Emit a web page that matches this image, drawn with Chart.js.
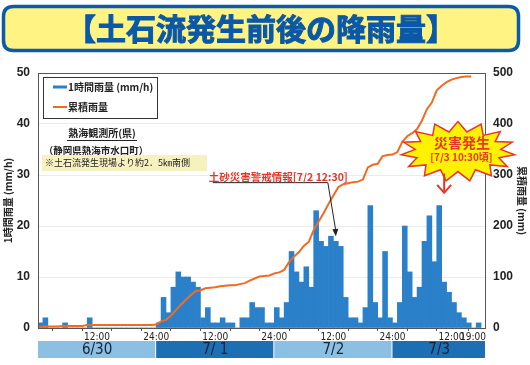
<!DOCTYPE html>
<html><head><meta charset="utf-8">
<script src="https://cdn.jsdelivr.net/npm/chart.js@4/dist/chart.umd.min.js"></script>
<style>html,body{margin:0;padding:0;background:#fff}</style>
</head><body>
<canvas id="c" width="530" height="365"></canvas>
<script>
// 1時間雨量 (mm/h): hourly bars from 6/30 0:00, one per hour (h0..h89)
const hourlyRain = [
  1,2,0,0,0,1,0,0,0,0,2,0,
  0,0,0,0,0,0,0,0,0,0,0,0,
  1,6,3,8,11,10,10,9,8,2,4,1,
  1,2,1,1,0,2,2,5,4,4,1,1,
  4,2,5,15,11,9,12,8,23,17,16,18,
  17,16,6,2,2,1,4,24,5,2,15,2,
  1,5,20,11,6,8,17,22,13,24,9,7,
  5,3,2,1,0,1
];
// 累積雨量 (mm), read per hour (h0..h88)
const cumulativeRain = [
  1,3,3,3,3,4,4,4,4,4,6,6,
  6,6,6,6,6,6,6,6,6,6,6,6,
  7,13,16,24,35,45,55,64,72,74,78,79,
  80,82,83,84,84,86,88,93,97,101,102,103,
  107,109,114,129,140,149,161,169,192,209,225,243,
  260,276,282,284,286,287,291,315,320,322,337,339,
  340,345,365,376,382,390,407,429,442,466,475,482,
  487,490,492,493,493
];
const tickHours  = [0,6,12,18,24,30,36,42,48,54,60,66,72,78,84,91];
const tickLabels = ['','','12:00','','24:00','','12:00','','24:00','','12:00','','24:00','','12:00','19:00'];
const dayLabels = ['6/30','7/ 1','7/2','7/3'];
const dayBounds = [0,24,48,72,91];
const warningHour = 60.5;   // 7/2 12:30
const disasterHour = 82.5;  // 7/3 10:30

const BAR = '#2a80c9', LINE = '#f26a21', RED = '#e8352a';
const JP = '"Noto Sans CJK JP", sans-serif';

function rr(ctx,x,y,w,h,r){ctx.beginPath();ctx.moveTo(x+r,y);ctx.lineTo(x+w-r,y);ctx.quadraticCurveTo(x+w,y,x+w,y+r);ctx.lineTo(x+w,y+h-r);ctx.quadraticCurveTo(x+w,y+h,x+w-r,y+h);ctx.lineTo(x+r,y+h);ctx.quadraticCurveTo(x,y+h,x,y+h-r);ctx.lineTo(x,y+r);ctx.quadraticCurveTo(x,y,x+r,y);ctx.closePath();}

const deco = {
  id:'deco',
  beforeDraw(chart){
    const ctx = chart.ctx; ctx.save();
    ctx.fillStyle='#fff'; ctx.fillRect(0,0,chart.width,chart.height);
    rr(ctx,3.5,6.5,515,44,10);
    ctx.fillStyle='#fff384'; ctx.fill();
    ctx.lineWidth=3.5; ctx.strokeStyle='#0b5bab'; ctx.stroke();
    ctx.fillStyle='#0a58a8'; ctx.strokeStyle='#0a58a8'; ctx.lineWidth=1;
    ctx.font='bold 30px '+JP;
    ctx.textAlign='center'; ctx.textBaseline='middle';
    ctx.fillText('【土石流発生前後の降雨量】', 261, 29);
    ctx.strokeText('【土石流発生前後の降雨量】', 261, 29);
    ctx.restore();
  },
  afterDatasetsDraw(chart){
    const ctx = chart.ctx, ca = chart.chartArea, xs = chart.scales.x, ys = chart.scales.y;
    ctx.save();
    // plot border
    ctx.strokeStyle='#555'; ctx.lineWidth=1;
    ctx.strokeRect(Math.round(ca.left)+0.5, Math.round(ca.top)+0.5, Math.round(ca.right-ca.left)-1, Math.round(ca.bottom-ca.top));
    // legend
    const L = ca.left+5, T = ca.top+4;
    ctx.fillStyle='#fff'; ctx.fillRect(L,T,114,41);
    ctx.strokeStyle='#333'; ctx.strokeRect(L+0.5,T+0.5,114,41);
    ctx.fillStyle=BAR; ctx.fillRect(L+10,T+8.5,14,3);
    ctx.strokeStyle=LINE; ctx.lineWidth=2; ctx.beginPath(); ctx.moveTo(L+10,T+30); ctx.lineTo(L+24,T+30); ctx.stroke();
    ctx.fillStyle='#222'; ctx.font='bold 10px '+JP; ctx.textBaseline='middle'; ctx.textAlign='left';
    ctx.fillText('1時間雨量 (mm/h)', L+25, T+10);
    ctx.fillText('累積雨量', L+25, T+30);
    // station info
    ctx.textAlign='center';
    ctx.font='bold 10px '+JP;
    ctx.fillText('熱海観測所(県)', ca.left+64, ca.top+60);
    ctx.strokeStyle='#222'; ctx.lineWidth=1;
    ctx.beginPath(); ctx.moveTo(ca.left+29, ca.top+67.5); ctx.lineTo(ca.left+99, ca.top+67.5); ctx.stroke();
    ctx.font='bold 9.5px '+JP;
    ctx.fillText('（静岡県熱海市水口町）', ca.left+58, ca.top+77);
    ctx.fillStyle='#f6f2c0'; ctx.fillRect(ca.left+4, ca.top+82, 165, 16);
    ctx.fillStyle='#222'; ctx.font='9px '+JP; ctx.textAlign='left';
    ctx.fillText('※土石流発生現場より約2．5㎞南側', ca.left+7, ca.top+90);
    // warning annotation
    const tipX = xs.getPixelForValue(warningHour), tipY = ys.getPixelForValue(18);
    const elbY = ys.getPixelForValue(28.5), elbX = tipX-8;
    ctx.strokeStyle='#222'; ctx.lineWidth=1;
    ctx.beginPath(); ctx.moveTo(elbX-115, elbY); ctx.lineTo(elbX, elbY); ctx.lineTo(tipX, tipY-5); ctx.stroke();
    ctx.fillStyle='#222'; ctx.beginPath(); ctx.moveTo(tipX,tipY); ctx.lineTo(tipX-3.5,tipY-7); ctx.lineTo(tipX+2.5,tipY-7.5); ctx.closePath(); ctx.fill();
    ctx.fillStyle=RED; ctx.font='bold 10.5px '+JP; ctx.textBaseline='alphabetic';
    ctx.fillText('土砂災害警戒情報[7/2 12:30]', elbX-119, elbY-2);
    // starburst
    const cx = xs.getPixelForValue(85.3), cy = ys.getPixelForValue(34.6);
    const N = 15;
    ctx.beginPath();
    for (let i=0;i<N*2;i++){
      const a = -Math.PI/2 + i*Math.PI/N;
      const out = i%2===0;
      const rx = out ? 57 : 43, ry = out ? 30 : 20;
      const px = cx + rx*Math.cos(a), py = cy + ry*Math.sin(a);
      if(i===0) ctx.moveTo(px,py); else ctx.lineTo(px,py);
    }
    ctx.closePath();
    ctx.fillStyle='#fff200'; ctx.fill();
    ctx.strokeStyle=RED; ctx.lineWidth=1.5; ctx.stroke();
    ctx.fillStyle=RED; ctx.textAlign='center'; ctx.textBaseline='middle';
    ctx.font='bold 14px '+JP; ctx.fillText('災害発生', cx+4, cy-8.5);
    ctx.font='bold 10px '+JP; ctx.fillText('[7/3 10:30頃]', cx+3.5, cy+5.5);
    // red arrow
    const ax = xs.getPixelForValue(disasterHour), ay1 = cy+22, ay2 = ys.getPixelForValue(26.5);
    ctx.strokeStyle=RED; ctx.lineWidth=2;
    ctx.beginPath(); ctx.moveTo(ax,ay1); ctx.lineTo(ax,ay2); ctx.stroke();
    ctx.beginPath(); ctx.moveTo(ax-7,ay2-8); ctx.lineTo(ax,ay2); ctx.lineTo(ax+7,ay2-8); ctx.stroke();
    ctx.restore();
  },
  afterDraw(chart){
    const ctx = chart.ctx, ca = chart.chartArea, xs = chart.scales.x;
    ctx.save();
    const top = ca.bottom+13, h = 17;
    for (let i=0;i<dayLabels.length;i++){
      const x0 = xs.getPixelForValue(dayBounds[i]), x1 = xs.getPixelForValue(dayBounds[i+1]);
      ctx.fillStyle = i%2===0 ? '#8cc0e3' : '#1c6fb3';
      ctx.fillRect(x0, top, x1-x0-1, h);
      ctx.fillStyle='#14233a'; ctx.font='15px "Liberation Sans Narrow", "DejaVu Sans Condensed", sans-serif';
      ctx.textAlign='center'; ctx.textBaseline='middle';
      ctx.fillText(dayLabels[i], (x0+x1)/2, top+h/2+1);
    }
    ctx.restore();
  }
};

new Chart(document.getElementById('c'), {
  data: {
    datasets: [
      { type:'line', label:'累積雨量', yAxisID:'y1', order:0,
        data: cumulativeRain.map((v,i)=>({x:i, y:v})),
        borderColor: LINE, borderWidth: 2, pointRadius: 0, tension: 0, fill:false },
      { type:'bar', label:'1時間雨量 (mm/h)', yAxisID:'y', order:1,
        data: hourlyRain.map((v,i)=>({x:i+0.5, y:v})),
        backgroundColor: BAR, borderWidth: 0, barPercentage: 1, categoryPercentage: 1 }
    ]
  },
  options: {
    responsive:false, animation:false, devicePixelRatio:1,
    layout:{ padding:{ top:73, left:0, right:0, bottom:0 } },
    plugins:{ legend:{display:false}, tooltip:{enabled:false} },
    scales:{
      x:{ type:'linear', min:0, max:91, offset:false,
        afterBuildTicks(s){ s.ticks = tickHours.map(v=>({value:v})); },
        afterFit(s){ s.height = 37; },
        grid:{ drawOnChartArea:false, tickLength:3, color:'#555' },
        border:{ display:false },
        ticks:{ autoSkip:false, maxRotation:0, minRotation:0, padding:0, align:'inner',
          color:'#222', font:{ size:10, family:'"Liberation Sans Narrow", "DejaVu Sans Condensed", sans-serif' },
          callback:(v,i)=>tickLabels[i] }
      },
      y:{ position:'left', min:0, max:50,
        afterFit(s){ s.width = 38; },
        grid:{ color:'rgba(0,0,0,0.08)', drawTicks:false },
        border:{ display:false },
        ticks:{ stepSize:10, padding:8, color:'#222', font:{ size:12, weight:'bold', family:'"Liberation Sans", Arial, sans-serif' } },
        title:{ display:true, text:'1時間雨量 (mm/h)', color:'#222', padding:{top:2,bottom:0}, font:{ size:10, weight:'bold', family:JP } }
      },
      y1:{ position:'right', min:0, max:500,
        afterFit(s){ s.width = 44; },
        grid:{ display:true, drawOnChartArea:false, drawTicks:false },
        border:{ display:false },
        ticks:{ stepSize:100, padding:7, color:'#222', font:{ size:12, weight:'bold', family:'"Liberation Sans", Arial, sans-serif' } },
        title:{ display:true, text:'累積雨量 (mm)', color:'#222', padding:{top:2,bottom:0}, font:{ size:10, weight:'bold', family:JP } }
      }
    }
  },
  plugins:[deco]
});
</script>
</body></html>
